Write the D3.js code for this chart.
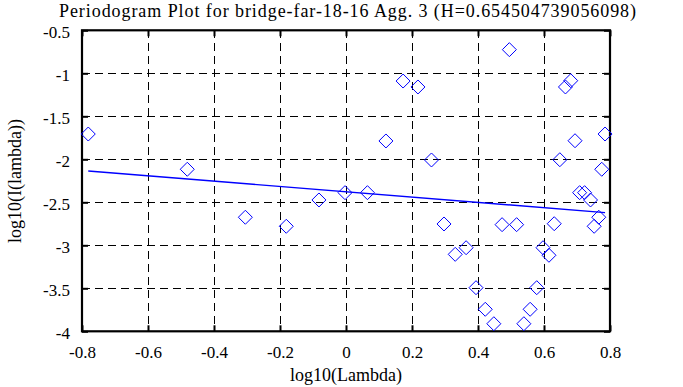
<!DOCTYPE html>
<html>
<head>
<meta charset="utf-8">
<script src="https://cdn.jsdelivr.net/npm/d3@7/dist/d3.min.js"></script>
<style>
  html, body { margin: 0; padding: 0; background: #fff; }
  svg { display: block; }
  text { font-family: "Liberation Serif", "DejaVu Serif", serif; fill: #000; }
</style>
</head>
<body>
<svg id="chart" width="683" height="387"></svg>
<script>
// ---- data ----
const titleText = "Periodogram Plot for bridge-far-18-16 Agg. 3 (H=0.654504739056098)";
const xLabel = "log10(Lambda)";
const yLabel = "log10(I(lambda))";
const logLambda = [-0.781, -0.481, -0.305, -0.181, -0.082, -0.003, 0.065, 0.121, 0.173, 0.218,
                   0.259, 0.297, 0.331, 0.364, 0.394, 0.422, 0.448, 0.473, 0.495,
                   0.517, 0.539, 0.558, 0.578, 0.597, 0.615, 0.631, 0.648, 0.665, 0.681,
                   0.694, 0.708, 0.723, 0.741, 0.752, 0.766, 0.775, 0.785];
const logI = [-1.706, -2.116, -2.674, -2.779, -2.473, -2.388, -2.388, -1.787, -1.090, -1.159,
              -2.008, -2.752, -3.105, -3.028, -3.493, -3.744, -3.912, -2.760, -0.725,
              -2.760, -3.912, -3.744, -3.493, -3.028, -3.116, -2.749, -2.005, -1.159, -1.086,
              -1.784, -2.388, -2.388, -2.473, -2.779, -2.674, -2.116, -1.706];
const fitX = [-0.781, 0.785];
const fitY = [-2.136, -2.620];
const xTicks = [-0.8, -0.6, -0.4, -0.2, 0, 0.2, 0.4, 0.6, 0.8];
const yTicks = [-0.5, -1, -1.5, -2, -2.5, -3, -3.5, -4];
const xTickLabels = ["-0.8", "-0.6", "-0.4", "-0.2", "0", "0.2", "0.4", "0.6", "0.8"];
const yTickLabels = ["-0.5", "-1", "-1.5", "-2", "-2.5", "-3", "-3.5", "-4"];

// ---- layout ----
const svg = d3.select("#chart");
const L = 82, R = 610, T = 30.3, B = 331.3;
const x = d3.scaleLinear().domain([-0.8, 0.8]).range([L, R]);
const y = d3.scaleLinear().domain([-4, -0.5]).range([B, T]);
const SERIF = "'Liberation Serif', 'DejaVu Serif', serif";

// grid
const grid = svg.append("g");
grid.selectAll("line.gx").data(xTicks.slice(1, -1)).enter().append("line")
  .attr("x1", d => Math.round(x(d)) + 0.5).attr("x2", d => Math.round(x(d)) + 0.5)
  .attr("y1", T).attr("y2", B)
  .attr("stroke", "#000").attr("stroke-width", 1).attr("stroke-dasharray", "8,5")
  .attr("shape-rendering", "crispEdges");
grid.selectAll("line.gy").data(yTicks.slice(1, -1)).enter().append("line")
  .attr("y1", d => Math.round(y(d)) + 0.5).attr("y2", d => Math.round(y(d)) + 0.5)
  .attr("x1", L).attr("x2", R)
  .attr("stroke", "#000").attr("stroke-width", 1).attr("stroke-dasharray", "8,5")
  .attr("shape-rendering", "crispEdges");

// axes with inward ticks
const axB = svg.append("g").attr("transform", `translate(0,${B})`)
  .call(d3.axisBottom(x).tickValues(xTicks).tickSizeInner(-6).tickSizeOuter(0).tickPadding(12)
    .tickFormat((d, i) => xTickLabels[i]));
const axT = svg.append("g").attr("transform", `translate(0,${T})`)
  .call(d3.axisTop(x).tickValues(xTicks).tickSizeInner(-6).tickSizeOuter(0).tickFormat(""));
const axL = svg.append("g").attr("transform", `translate(${L},0)`)
  .call(d3.axisLeft(y).tickValues(yTicks).tickSizeInner(-6).tickSizeOuter(0).tickPadding(12)
    .tickFormat((d, i) => yTickLabels[i]));
const axR = svg.append("g").attr("transform", `translate(${R},0)`)
  .call(d3.axisRight(y).tickValues(yTicks).tickSizeInner(-6).tickSizeOuter(0).tickFormat(""));
[axB, axT, axL, axR].forEach(a => {
  a.attr("font-family", SERIF).attr("font-size", 17);
  a.select(".domain").remove();
  a.selectAll(".tick line").attr("stroke", "#000").attr("stroke-width", 2);
  a.selectAll(".tick text").attr("fill", "#000");
});
axL.selectAll(".tick text").attr("dy", "0.45em");
axB.selectAll(".tick text").attr("dy", "0.85em");

// box
svg.append("rect").attr("x", L).attr("y", T).attr("width", R - L).attr("height", B - T)
  .attr("fill", "none").attr("stroke", "#000").attr("stroke-width", 2.2);

// fit line
svg.append("line")
  .attr("x1", x(fitX[0])).attr("y1", y(fitY[0]))
  .attr("x2", x(fitX[1])).attr("y2", y(fitY[1]))
  .attr("stroke", "#0000ff").attr("stroke-width", 1.4);

// diamonds
const s = 7;
svg.append("g").selectAll("path").data(logLambda.map((d, i) => [d, logI[i]])).enter().append("path")
  .attr("d", d => {
    const cx = x(d[0]), cy = y(d[1]);
    return `M${cx},${cy - s}L${cx + s},${cy}L${cx},${cy + s}L${cx - s},${cy}Z`;
  })
  .attr("fill", "none").attr("stroke", "#0000ff").attr("stroke-width", 1);

// labels
svg.append("text").attr("x", 347.5).attr("y", 17).attr("text-anchor", "middle")
  .attr("font-family", SERIF).attr("font-size", 18)
  .attr("textLength", 577).attr("lengthAdjust", "spacing").text(titleText);
svg.append("text").attr("x", 346).attr("y", 381).attr("text-anchor", "middle")
  .attr("font-family", SERIF).attr("font-size", 18).text(xLabel);
svg.append("text").attr("transform", "translate(21,181) rotate(-90)").attr("text-anchor", "middle")
  .attr("font-family", SERIF).attr("font-size", 18).text(yLabel);
</script>
</body>
</html>
